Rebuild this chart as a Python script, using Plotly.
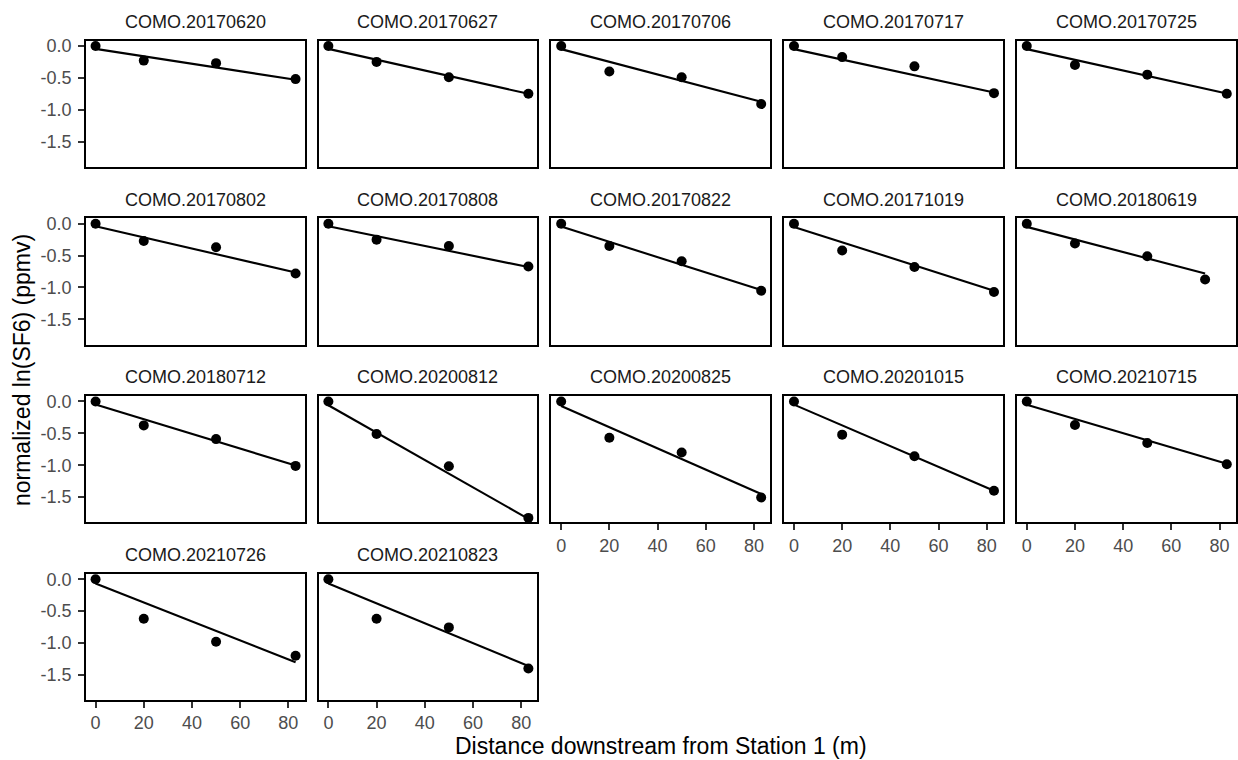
import plotly.graph_objects as go

# ---------------- data ----------------
panels = ["COMO.20170620", "COMO.20170627", "COMO.20170706", "COMO.20170717", "COMO.20170725",
          "COMO.20170802", "COMO.20170808", "COMO.20170822", "COMO.20171019", "COMO.20180619",
          "COMO.20180712", "COMO.20200812", "COMO.20200825", "COMO.20201015", "COMO.20210715",
          "COMO.20210726", "COMO.20210823"]

distance = [
    [0, 20, 50, 83], [0, 20, 50, 83], [0, 20, 50, 83], [0, 20, 50, 83], [0, 20, 50, 83],
    [0, 20, 50, 83], [0, 20, 50, 83], [0, 20, 50, 83], [0, 20, 50, 83], [0, 20, 50, 74],
    [0, 20, 50, 83], [0, 20, 50, 83], [0, 20, 50, 83], [0, 20, 50, 83], [0, 20, 50, 83],
    [0, 20, 50, 83], [0, 20, 50, 83],
]

ln_sf6 = [
    [0.0, -0.23, -0.27, -0.52],
    [0.0, -0.25, -0.49, -0.75],
    [0.0, -0.40, -0.49, -0.91],
    [0.0, -0.175, -0.32, -0.74],
    [0.0, -0.30, -0.45, -0.75],
    [0.0, -0.27, -0.37, -0.78],
    [0.0, -0.25, -0.35, -0.67],
    [0.0, -0.35, -0.59, -1.05],
    [0.0, -0.42, -0.68, -1.07],
    [0.0, -0.31, -0.51, -0.875],
    [0.0, -0.375, -0.59, -1.01],
    [0.0, -0.51, -1.015, -1.825],
    [0.0, -0.57, -0.80, -1.505],
    [0.0, -0.52, -0.86, -1.40],
    [0.0, -0.37, -0.65, -0.985],
    [0.0, -0.62, -0.98, -1.20],
    [0.0, -0.62, -0.755, -1.40],
]

# fitted line values at the first and last station
fit_start = [-0.046, -0.046, -0.05, -0.05, -0.05,
             -0.04, -0.04, -0.045, -0.05, -0.05,
             -0.046, -0.06, -0.07, -0.05, -0.05,
             -0.067, -0.067]
fit_end = [-0.53, -0.75, -0.875, -0.73, -0.745,
           -0.765, -0.68, -1.04, -1.05, -0.78,
           -1.005, -1.84, -1.45, -1.40, -0.975,
           -1.30, -1.36]

x_ticks = [0, 20, 40, 60, 80]
y_ticks = [0.0, -0.5, -1.0, -1.5]
y_tick_text = ["0.0", "-0.5", "-1.0", "-1.5"]

# ---------------- layout geometry ----------------
W, H = 1238, 760
ncol = 5
left0, col_pitch, pw = 85.7, 232.8, 218.8
top0, row_pitch, ph = 36.7, 178.7, 127.0
FONT = "Liberation Sans, Arial, Helvetica, sans-serif"

fig = go.Figure()
layout = dict(
    width=W, height=H, margin=dict(l=0, r=0, t=0, b=0),
    paper_bgcolor="white", plot_bgcolor="white", showlegend=False,
    font=dict(family=FONT, color="#1a1a1a"),
)
annotations = []

n = len(panels)
for i, name in enumerate(panels):
    r, c = divmod(i, ncol)
    x0 = left0 + c * col_pitch
    x1 = x0 + pw
    yt = top0 + r * row_pitch
    yb = yt + ph
    suffix = "" if i == 0 else str(i + 1)
    xa, ya = "x" + suffix, "y" + suffix

    # bottom-most panel in its column?
    show_x = (i + ncol) >= n
    show_y = c == 0

    layout["xaxis" + suffix] = dict(
        domain=[x0 / W, x1 / W], anchor=ya, range=[-4.1, 86.7],
        showgrid=False, zeroline=False, showline=True, mirror=True,
        linecolor="black", linewidth=1.9,
        tickmode="array", tickvals=x_ticks, ticktext=[str(v) for v in x_ticks],
        ticks="outside" if show_x else "", ticklen=5.7, tickwidth=1.5, tickcolor="#333333",
        showticklabels=show_x, tickfont=dict(size=18, color="#4d4d4d", family=FONT),
        ticklabelstandoff=0,
    )
    layout["yaxis" + suffix] = dict(
        domain=[1 - yb / H, 1 - yt / H], anchor=xa, range=[-1.895, 0.085],
        showgrid=False, zeroline=False, showline=True, mirror=True,
        linecolor="black", linewidth=1.9,
        tickmode="array", tickvals=y_ticks, ticktext=y_tick_text,
        ticks="outside" if show_y else "", ticklen=5.7, tickwidth=1.5, tickcolor="#333333",
        showticklabels=show_y, tickfont=dict(size=18, color="#4d4d4d", family=FONT),
        ticklabelstandoff=3,
    )

    xs = distance[i]
    xmax = xs[-1]
    slope = (fit_end[i] - fit_start[i]) / xmax
    line_x = [0, xmax]
    line_y = [fit_start[i] + slope * v for v in line_x]

    fig.add_trace(go.Scatter(x=line_x, y=line_y, mode="lines",
                             line=dict(color="black", width=2.1),
                             xaxis=xa, yaxis=ya, hoverinfo="skip"))
    fig.add_trace(go.Scatter(x=xs, y=ln_sf6[i], mode="markers",
                             marker=dict(color="black", size=10),
                             xaxis=xa, yaxis=ya))

    annotations.append(dict(
        text=name, x=(x0 + x1) / 2 / W, y=1 - (yt - 18.7) / H,
        xref="paper", yref="paper", xanchor="center", yanchor="middle",
        showarrow=False, font=dict(size=18, color="#1a1a1a", family=FONT),
    ))

annotations.append(dict(
    text="Distance downstream from Station 1 (m)", x=(left0 + 4 * col_pitch + pw + left0) / 2 / W,
    y=1 - 746 / H, xref="paper", yref="paper", xanchor="center", yanchor="middle",
    showarrow=False, font=dict(size=23, color="black", family=FONT),
))
annotations.append(dict(
    text="normalized ln(SF6) (ppmv)", x=22 / W, y=1 - 368 / H, textangle=-90,
    xref="paper", yref="paper", xanchor="center", yanchor="middle",
    showarrow=False, font=dict(size=23, color="black", family=FONT),
))
layout["annotations"] = annotations

fig.update_layout(**layout)
fig.write_html("out.html")
